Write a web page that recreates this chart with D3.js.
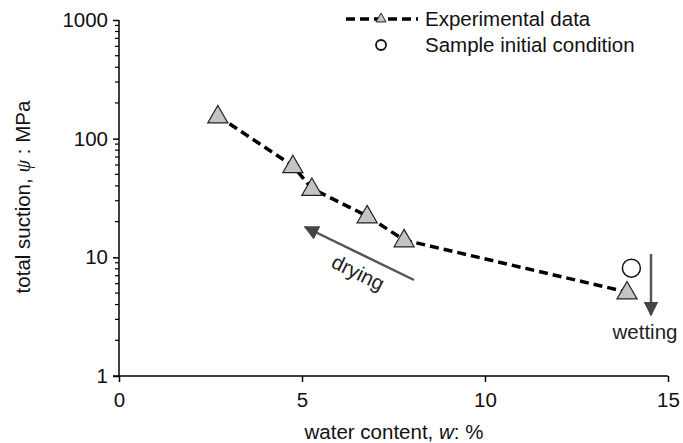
<!DOCTYPE html>
<html><head><meta charset="utf-8">
<script src="https://cdn.jsdelivr.net/npm/d3@7"></script>
<style>body{margin:0;background:#fff}svg{display:block}text{font-family:"Liberation Sans",Arial,sans-serif}</style>
</head><body>
<svg id="c" width="683" height="443"></svg>
<script>
const waterContent = [2.7, 4.75, 5.27, 6.78, 7.79, 13.88];
const suction = [155, 59, 38, 22.3, 14, 5.1];
const initialW = [14.0];
const initialSuction = [8.1];
const xTicks = [0, 5, 10, 15];
const yTicks = [1, 10, 100, 1000];

const svg = d3.select("#c");
const x = d3.scaleLinear().domain([0, 15]).range([119, 668]);
const y = d3.scaleLog().domain([1, 1000]).range([376, 20]);
const fs = 20.5;

// y axis
const yAxis = d3.axisLeft(y).tickValues(yTicks).tickFormat(d3.format("d")).tickSize(6).tickPadding(5);
const gy = svg.append("g").attr("transform", "translate(119,0)").call(yAxis);
gy.select(".domain").attr("d", "M0,376V20").attr("stroke", "#000").attr("stroke-width", 1.5);
gy.selectAll("text").attr("font-size", fs).attr("fill", "#111");
gy.selectAll(".tick line").attr("stroke-width", 1.5);
// minor ticks
const minors = [];
for (let dec = 1; dec < 1000; dec *= 10) for (let k = 2; k <= 9; k++) minors.push(dec * k);
gy.selectAll(".minor").data(minors).enter().append("line")
  .attr("x1", -4).attr("x2", 0).attr("y1", d => y(d)).attr("y2", d => y(d))
  .attr("stroke", "#000").attr("stroke-width", 1.2);

// x axis
const xAxis = d3.axisBottom(x).tickValues(xTicks).tickSize(6).tickPadding(10);
const gx = svg.append("g").attr("transform", "translate(0,376)").call(xAxis);
gx.select(".domain").attr("d", "M113,0H668").attr("stroke", "#000").attr("stroke-width", 1.5);
gx.selectAll("text").attr("font-size", fs).attr("fill", "#111");
gx.selectAll(".tick line").attr("stroke-width", 1.5);

// axis titles
const yl = svg.append("text").attr("transform", "translate(30,197) rotate(-90)")
  .attr("text-anchor", "middle").attr("font-size", fs).attr("fill", "#111");
yl.append("tspan").text("total suction, ");
yl.append("tspan").attr("font-style", "italic").attr("font-family", "Liberation Serif, serif").text("ψ");
yl.append("tspan").text(" : MPa");
const xl = svg.append("text").attr("x", 394).attr("y", 439).attr("text-anchor", "middle").attr("font-size", fs).attr("fill", "#111");
xl.append("tspan").text("water content, ");
xl.append("tspan").attr("font-style", "italic").text("w");
xl.append("tspan").text(": %");

// data line
const pts = waterContent.map((w, i) => [w, suction[i]]);
svg.append("path").datum(pts)
  .attr("d", d3.line().x(d => x(d[0])).y(d => y(d[1])))
  .attr("fill", "none").attr("stroke", "#000").attr("stroke-width", 3.5).attr("stroke-dasharray", "9,5");

const tri = d3.symbol().type(d3.symbolTriangle).size(175);
svg.selectAll(".tri").data(pts).enter().append("path")
  .attr("d", tri).attr("transform", d => `translate(${x(d[0])},${y(d[1]) + 1})`)
  .attr("fill", "#c4c4c4").attr("stroke", "#222").attr("stroke-width", 1.2);

// initial condition
svg.selectAll(".ic").data(initialW).enter().append("circle")
  .attr("cx", d => x(d)).attr("cy", (d, i) => y(initialSuction[i])).attr("r", 9)
  .attr("fill", "#fff").attr("stroke", "#111").attr("stroke-width", 1.5);

// arrows
const defs = svg.append("defs");
defs.append("marker").attr("id", "ah").attr("viewBox", "0 0 10 10").attr("refX", 9).attr("refY", 5)
  .attr("markerWidth", 6).attr("markerHeight", 6).attr("markerUnits", "strokeWidth").attr("orient", "auto")
  .append("path").attr("d", "M0,0L10,5L0,10Z").attr("fill", "#444");
svg.append("line").attr("x1", 414).attr("y1", 280).attr("x2", 305).attr("y2", 227)
  .attr("stroke", "#555").attr("stroke-width", 2.5).attr("marker-end", "url(#ah)");
svg.append("text").attr("transform", "translate(355,279) rotate(26)").attr("text-anchor", "middle")
  .attr("font-size", fs).attr("fill", "#222").text("drying");
svg.append("line").attr("x1", 651).attr("y1", 254).attr("x2", 651).attr("y2", 315)
  .attr("stroke", "#555").attr("stroke-width", 2.5).attr("marker-end", "url(#ah)");
svg.append("text").attr("x", 645).attr("y", 339).attr("text-anchor", "middle")
  .attr("font-size", fs).attr("fill", "#222").text("wetting");

// legend
svg.append("line").attr("x1", 346).attr("x2", 418).attr("y1", 19).attr("y2", 19)
  .attr("stroke", "#000").attr("stroke-width", 3.5).attr("stroke-dasharray", "9,5");
svg.append("path").attr("d", d3.symbol().type(d3.symbolTriangle).size(45))
  .attr("transform", "translate(381,19)").attr("fill", "#c4c4c4").attr("stroke", "#222").attr("stroke-width", 1);
svg.append("text").attr("x", 425).attr("y", 26).attr("font-size", fs).attr("fill", "#111").text("Experimental data");
svg.append("circle").attr("cx", 381).attr("cy", 45).attr("r", 5).attr("fill", "#fff").attr("stroke", "#111").attr("stroke-width", 1.8);
svg.append("text").attr("x", 425).attr("y", 52).attr("font-size", fs).attr("fill", "#111").text("Sample initial condition");
</script>
</body></html>
